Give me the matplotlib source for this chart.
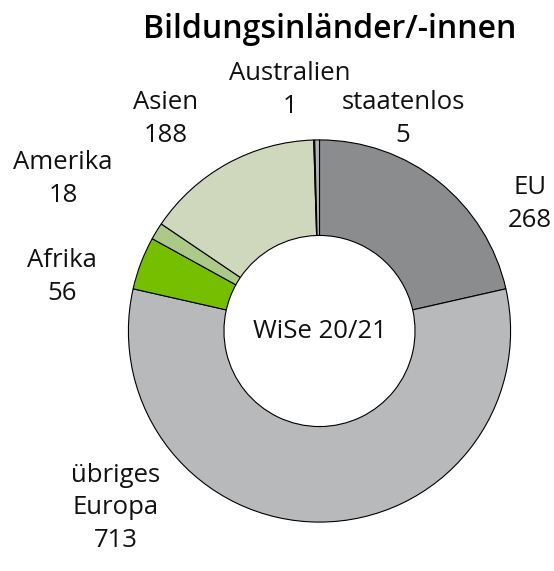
import matplotlib.pyplot as plt

plt.rcParams['font.family'] = ['Open Sans', 'DejaVu Sans']

# Daten: Bildungsinländer/-innen WiSe 20/21
regionen = ['EU', 'übriges\nEuropa', 'Afrika', 'Amerika', 'Asien', 'Australien', 'staatenlos']
anzahl = [268, 713, 56, 18, 188, 1, 5]
farben = ['#8b8c8e', '#b8b9bb', '#76bf00', '#adc987', '#cfd8bc', '#3a3a3a', '#b3b4b6']

# Label-Positionen in Pixeln (Mitte des Textblocks)
label_pos = [(530, 204), (116, 508), (62, 277), (63, 179), (166, 119), (290, 90), (403, 119)]

W, H = 554, 571
fig = plt.figure(figsize=(W / 100, H / 100), dpi=100)

cx, cy, r = 319.5, 331, 193
ax = fig.add_axes([(cx - r) / W, (H - cy - r) / H, 2 * r / W, 2 * r / H])
ax.pie(anzahl, colors=farben, startangle=90, counterclock=False, radius=1,
       wedgeprops=dict(width=0.5, edgecolor='black', linewidth=0.8))
ax.set_xlim(-1.01, 1.01)
ax.set_ylim(-1.01, 1.01)
ax.axis('off')

ax.text(0, 0, 'WiSe 20/21', ha='center', va='center', fontsize=18.5, color='#111111')

for name, n, (x, y) in zip(regionen, anzahl, label_pos):
    fig.text(x / W, 1 - y / H, f'{name}\n{n}', ha='center', va='center',
             fontsize=18.5, color='#111111', linespacing=1.42)

fig.text(330 / W, 1 - 30 / H, 'Bildungsinländer/-innen', ha='center', va='center',
         fontsize=23, fontweight='semibold', color='#000000')

fig.savefig('out.png', dpi=100, facecolor='white')
